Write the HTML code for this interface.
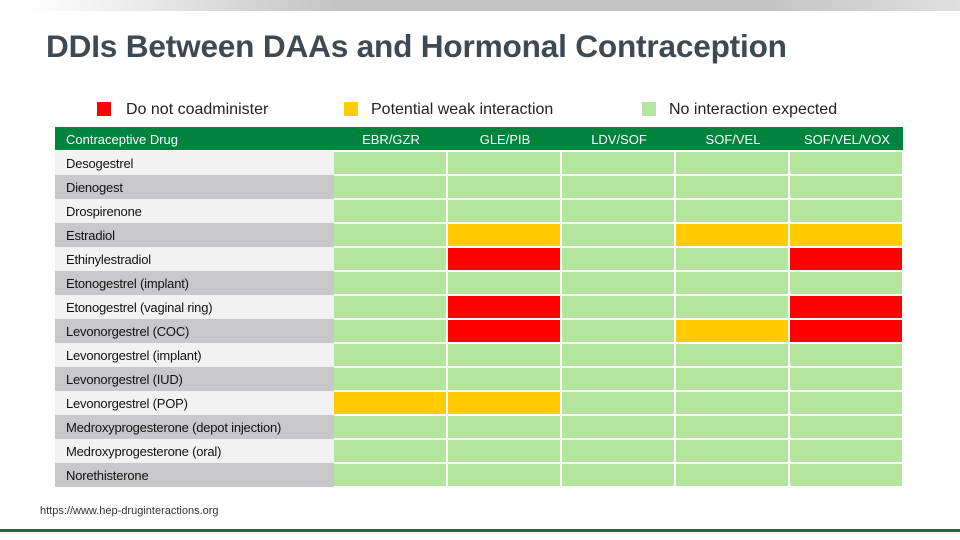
<!DOCTYPE html>
<html><head><meta charset="utf-8"><style>
body{margin:0;width:960px;height:540px;overflow:hidden;background:#fff;font-family:"Liberation Sans",sans-serif;position:relative}
.abs{position:absolute}
.lt{font-size:13px;color:#111;letter-spacing:-0.2px}
</style></head><body>
<div class="abs" style="left:0;top:0;width:960px;height:11px;background:linear-gradient(90deg,#fff 3%,#c4c4c4 35%,#c4c4c4 80%,#e0e0e0 100%)"></div>
<div class="abs" style="left:46px;top:28px;font-size:31.6px;font-weight:bold;color:#3d4a54;letter-spacing:-0.2px">DDIs Between DAAs and Hormonal Contraception</div>
<div class="abs" style="left:97px;top:102px;width:14px;height:14px;background:#f00"></div>
<div class="abs" style="left:126px;top:101px;font-size:16px;color:#222">Do not coadminister</div>
<div class="abs" style="left:344px;top:102px;width:14px;height:14px;background:#ffcc00"></div>
<div class="abs" style="left:371px;top:101px;font-size:16px;color:#222">Potential weak interaction</div>
<div class="abs" style="left:642px;top:102px;width:14px;height:14px;background:#b3e59c"></div>
<div class="abs" style="left:669px;top:101px;font-size:16px;color:#222">No interaction expected</div>
<div id="tbl"></div>
<div class="abs" style="left:40px;top:505px;font-size:11px;color:#333">https://www.hep-druginteractions.org</div>
<div class="abs" style="left:0;top:529px;width:960px;height:3px;background:#1e6b45"></div>
<script>
const drugs=["Desogestrel","Dienogest","Drospirenone","Estradiol","Ethinylestradiol","Etonogestrel (implant)","Etonogestrel (vaginal ring)","Levonorgestrel (COC)","Levonorgestrel (implant)","Levonorgestrel (IUD)","Levonorgestrel (POP)","Medroxyprogesterone (depot injection)","Medroxyprogesterone (oral)","Norethisterone"];
const daas=["EBR/GZR","GLE/PIB","LDV/SOF","SOF/VEL","SOF/VEL/VOX"];
const grid=["GGGGG","GGGGG","GGGGG","GYGYY","GRGGR","GGGGG","GRGGR","GRGYR","GGGGG","GGGGG","YYGGG","GGGGG","GGGGG","GGGGG"];
const colors={G:"#b3e59c",Y:"#ffcc00",R:"#ff0000"};
const T=document.getElementById('tbl');
function mk(name,css,txt,cls){const d=document.createElement('div');d.className='abs'+(cls?' '+cls:'');d.style.cssText=css;if(txt)d.textContent=txt;


T.appendChild(d);return d;}
const x0=55,cx=334,cw=114,y0=151,rh=24;
mk('header-row',`left:${x0}px;top:127px;width:${cx+cw*5-x0-1}px;height:23px;background:#00843d`);
mk('header-drug',`left:66px;top:132px;font-size:13px;color:#fff`,"Contraceptive Drug");
daas.forEach((d,j)=>mk('header-'+d.toLowerCase().replace(/\//g,'-'),`left:${cx+j*cw}px;top:132px;width:${cw}px;text-align:center;font-size:13px;color:#fff`,d));
drugs.forEach((dr,i)=>{const y=y0+i*rh;
mk('drug-row-label',`left:${x0}px;top:${y}px;width:${cx-x0}px;height:${rh}px;background:${i%2?'#c8c8cb':'#f2f2f2'}`);
mk('drug-name',`left:66px;top:${y+5}px`,dr,'lt');
for(let j=0;j<5;j++){mk('cell',`left:${cx+j*cw}px;top:${y+1}px;width:${cw-2}px;height:${rh-2}px;background:${colors[grid[i][j]]}`);}
});
</script>
</body></html>
